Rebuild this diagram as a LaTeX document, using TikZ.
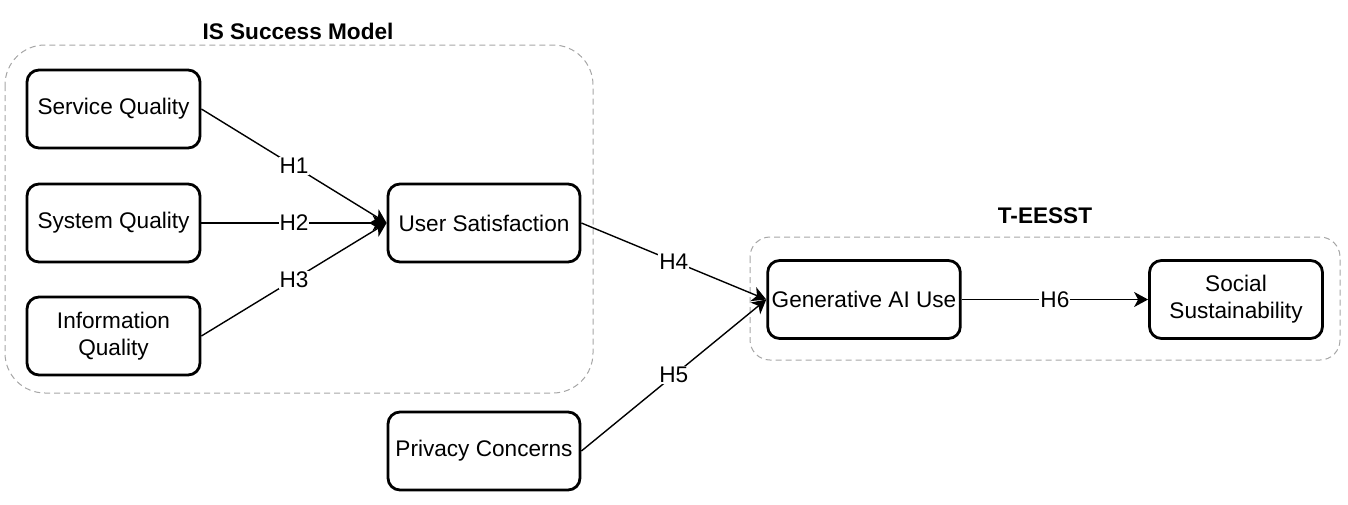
\documentclass[tikz,border=0pt]{standalone}
\usepackage{fontspec}
\setmainfont{Liberation Sans}
\usetikzlibrary{arrows.meta}

\begin{document}
\begin{tikzpicture}[x=0.5pt, y=-0.5pt,
    font=\fontsize{11.3}{13.6}\selectfont,
    construct/.style={draw, line width=1.4pt, rounded corners=6pt, minimum width=86.5pt, minimum height=39pt, align=center, inner sep=2pt},
    wide/.style={construct, minimum width=96pt},
    grp/.style={draw=black!35, dash pattern=on 3pt off 2pt, line width=0.5pt, rounded corners=20pt},
    grplabel/.style={font=\fontsize{11.3}{13.6}\selectfont\bfseries},
    hyp/.style={-{Stealth[length=7pt, width=7.5pt, inset=2pt]}, line width=0.7pt},
    hlabel/.style={fill=white, inner sep=0.5pt, midway}
]
    \useasboundingbox (0,0) rectangle (1348,504);

    % groups
    \draw[grp] (5,45) rectangle (593,393);
    \node[grplabel] (istitle) at (298,31) {IS Success Model};
    \draw[grp, rounded corners=10pt] (750,237) rectangle (1340,360);
    \node[grplabel] (tetitle) at (1045,216) {T-EESST};

    % constructs
    \node[construct] (sq) at (113.5,109) {Service Quality};
    \node[construct] (syq) at (113.5,223) {System Quality};
    \node[construct] (iq) at (113.5,336) {Information\\Quality};
    \node[wide] (us) at (484,223) {User Satisfaction};
    \node[wide] (pc) at (484,451) {Privacy Concerns};
    \node[wide] (gai) at (864,299.5) {Generative AI Use};
    \node[construct] (ss) at (1236,299.5) {Social\\Sustainability};

    % hypotheses
    \draw[hyp] (sq.east) -- node[hlabel] {H1} (us.west);
    \draw[hyp] (syq.east) -- node[hlabel] {H2} (us.west);
    \draw[hyp] (iq.east) -- node[hlabel] {H3} (us.west);
    \draw[hyp] (us.east) -- node[hlabel] {H4} (gai.west);
    \draw[hyp] (pc.east) -- node[hlabel] {H5} (gai.west);
    \draw[hyp] (gai.east) -- node[hlabel] {H6} (ss.west);
\end{tikzpicture}
\end{document}
